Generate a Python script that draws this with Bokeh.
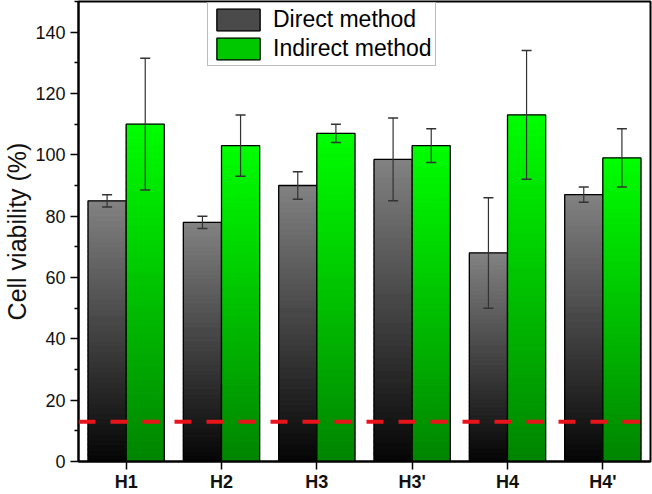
import numpy as np
from bokeh.plotting import figure
from bokeh.models import (ColumnDataSource, Whisker, Span, Legend, LegendItem,
                          FixedTicker, Range1d, TeeHead)
from bokeh.embed import file_html
from bokeh.resources import INLINE

# ---- data ----
categories = ["H1", "H2", "H3", "H3'", "H4", "H4'"]
direct = [85, 78, 90, 98.5, 68, 87]
direct_err = [2, 2, 4.5, 13.5, 18, 2.5]
indirect = [110, 103, 107, 103, 113, 99]
indirect_err = [21.5, 10, 3, 5.5, 21, 9.5]
threshold = 13
y_ticks = [0, 20, 40, 60, 80, 100, 120, 140]
series_names = ["Direct method", "Indirect method"]

FONT = "Liberation Sans"
N = 50
BAR_W = 0.4

p = figure(width=652, height=494, output_backend="svg", toolbar_location=None,
           x_range=Range1d(0.5, len(categories) + 0.5), y_range=Range1d(0, 150),
           min_border_left=77, min_border_right=2, min_border_top=1, min_border_bottom=32)
p.grid.visible = False
p.outline_line_color = "black"
p.outline_line_width = 2
p.background_fill_color = "white"

positions = list(range(1, len(categories) + 1))


def hexcol(c):
    return "#%02x%02x%02x" % tuple(int(round(v)) for v in c)


def gradient_source(values, shift, c_bot, c_top):
    L, R, B, T, C = [], [], [], [], []
    mid = int(N * 0.55)
    order = list(range(mid, N)) + list(range(0, mid))
    for k in order:
        t = (k + 0.5) / N
        col = hexcol([c_bot[j] + (c_top[j] - c_bot[j]) * t for j in range(3)])
        for x, v in zip(positions, values):
            L.append(x + shift)
            R.append(x + shift + BAR_W)
            B.append(v * k / N)
            T.append(min(v, v * (k + 1.6) / N))
            C.append(col)
    return ColumnDataSource(dict(left=L, right=R, bottom=B, top=T, color=C))


series = [
    (direct, direct_err, -BAR_W, (5, 5, 5), (130, 130, 130)),
    (indirect, indirect_err, 0.0, (0, 132, 0), (0, 255, 0)),
]

legend_items = []
for name, (vals, errs, shift, cb, ct) in zip(series_names, series):
    src = gradient_source(vals, shift, cb, ct)
    seg = p.quad(left="left", right="right", bottom="bottom", top="top", source=src,
                 fill_color="color", line_color="color", line_width=0.6)
    osrc = ColumnDataSource(dict(left=[x + shift for x in positions],
                                 right=[x + shift + BAR_W for x in positions],
                                 bottom=[0] * len(vals), top=vals))
    outl = p.quad(left="left", right="right", bottom="bottom", top="top", source=osrc,
                  fill_alpha=0, line_color="black", line_width=1.3)
    esrc = ColumnDataSource(dict(x=[x + shift + BAR_W / 2 for x in positions],
                                 upper=[v + e for v, e in zip(vals, errs)],
                                 lower=[v - e for v, e in zip(vals, errs)]))
    w = Whisker(base="x", upper="upper", lower="lower", source=esrc, level="annotation",
                line_color="#333333", line_width=1.2,
                upper_head=TeeHead(size=10, line_color="#333333", line_width=1.5),
                lower_head=TeeHead(size=10, line_color="#333333", line_width=1.5))
    p.add_layout(w)
    legend_items.append(LegendItem(label=name, renderers=[seg, outl]))

span = Span(location=threshold, dimension="width", line_color="#e8141a",
            line_width=4, line_dash="17 15", level="annotation")
p.add_layout(span)

legend = Legend(items=legend_items, location=(129, 395), orientation="vertical",
                glyph_width=54, glyph_height=27, spacing=2, padding=3, margin=0,
                label_standoff=8, label_text_font=FONT, label_text_font_size="23px",
                label_text_color="black", border_line_color="#777777",
                border_line_width=1.5, background_fill_alpha=1.0,
                label_height=27)
p.add_layout(legend)

# axes
p.xaxis.ticker = FixedTicker(ticks=positions)
p.xaxis.major_label_overrides = {x: c for x, c in zip(positions, categories)}
p.xaxis.major_label_text_font = FONT
p.xaxis.major_label_text_font_style = "bold"
p.xaxis.major_label_text_font_size = "18px"
p.xaxis.major_label_text_color = "#111111"
p.xaxis.major_tick_out = 8
p.xaxis.major_tick_in = 0
p.xaxis.minor_tick_out = 0
p.xaxis.major_tick_line_width = 1.5
p.xaxis.axis_line_width = 2
p.xaxis.major_label_standoff = 2

p.yaxis.ticker = FixedTicker(ticks=y_ticks, minor_ticks=[v + 10 for v in y_ticks])
p.yaxis.axis_label = "Cell viability (%)"
p.yaxis.axis_label_text_font = FONT
p.yaxis.axis_label_text_font_style = "normal"
p.yaxis.axis_label_text_font_size = "25px"
p.yaxis.axis_label_text_color = "#111111"
p.yaxis.axis_label_standoff = 1
p.yaxis.major_label_text_font = FONT
p.yaxis.major_label_text_font_size = "18px"
p.yaxis.major_label_text_color = "#111111"
p.yaxis.major_tick_out = 8
p.yaxis.major_tick_in = 0
p.yaxis.minor_tick_out = 4
p.yaxis.minor_tick_in = 0
p.yaxis.major_tick_line_width = 1.5
p.yaxis.minor_tick_line_width = 1.5
p.yaxis.axis_line_width = 2
p.yaxis.major_label_standoff = 5

open("out.html", "w").write(file_html(p, INLINE))
